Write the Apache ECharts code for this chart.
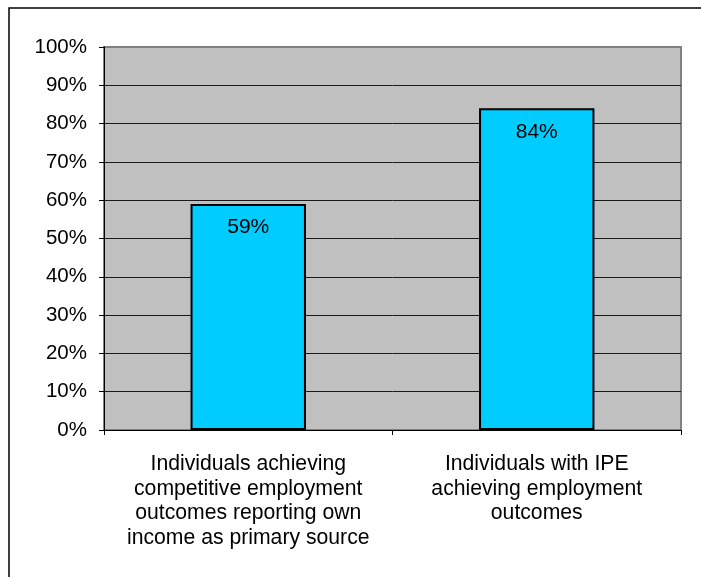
<!DOCTYPE html>
<html>
<head>
<meta charset="utf-8">
<script src="https://cdn.jsdelivr.net/npm/echarts@6/dist/echarts.min.js"></script>
<style>
  html, body { margin: 0; padding: 0; background: #fff; }
  #main { width: 701px; height: 577px; }
</style>
</head>
<body>
<div id="main"></div>
<script>
// dados do grafico
var categories = [
    'Individuals achieving\ncompetitive employment\noutcomes reporting own\nincome as primary source',
    'Individuals with IPE\nachieving employment\noutcomes'
];
var values = [0.59, 0.84];
var yTicks = [0, 0.1, 0.2, 0.3, 0.4, 0.5, 0.6, 0.7, 0.8, 0.9, 1];

var font = 'Arial, "Liberation Sans", sans-serif';

var chart = echarts.init(document.getElementById('main'));

// linhas de grade: a de 100% fica cinza como a borda
var splitColors = yTicks.map(function (t) {
    return t === 1 ? '#808080' : '#1a1a1a';
});

var option = {
    animation: false,
    backgroundColor: '#fff',
    graphic: [
        {
            type: 'rect',
            shape: { x: 9, y: 8, width: 900, height: 900 },
            style: { fill: 'none', stroke: '#000', lineWidth: 1.5 },
            z: 100
        }
    ],
    grid: {
        left: 104,
        right: 20,
        top: 47,
        bottom: 147,
        show: true,
        backgroundColor: '#C0C0C0',
        borderColor: '#808080',
        borderWidth: 2
    },
    xAxis: {
        type: 'category',
        data: categories,
        axisLine: { lineStyle: { color: '#000', width: 1 } },
        axisTick: { show: true, length: 5, lineStyle: { color: '#000' } },
        axisLabel: {
            color: '#000',
            fontFamily: font,
            fontSize: 21.2,
            lineHeight: 24.6,
            margin: 22,
            interval: 0
        }
    },
    yAxis: {
        type: 'value',
        min: 0,
        max: 1,
        interval: 0.1,
        axisLine: { show: true, lineStyle: { color: '#000', width: 1 } },
        axisTick: { show: true, length: 5, lineStyle: { color: '#000' } },
        axisLabel: {
            color: '#000',
            fontFamily: font,
            fontSize: 20.5,
            margin: 17,
            formatter: function (v) {
                return Math.round(v * 100) + '%';
            }
        },
        splitLine: {
            show: true,
            lineStyle: { color: splitColors, width: 1 }
        }
    },
    series: [
        {
            type: 'bar',
            data: values,
            barWidth: '40%',
            itemStyle: {
                color: '#00CCFF',
                borderColor: '#000',
                borderWidth: 2
            },
            label: {
                show: true,
                position: 'insideTop',
                distance: 13,
                color: '#000',
                fontFamily: font,
                fontSize: 21,
                formatter: function (p) {
                    return Math.round(p.value * 100) + '%';
                }
            }
        }
    ]
};

chart.setOption(option);
</script>
</body>
</html>
